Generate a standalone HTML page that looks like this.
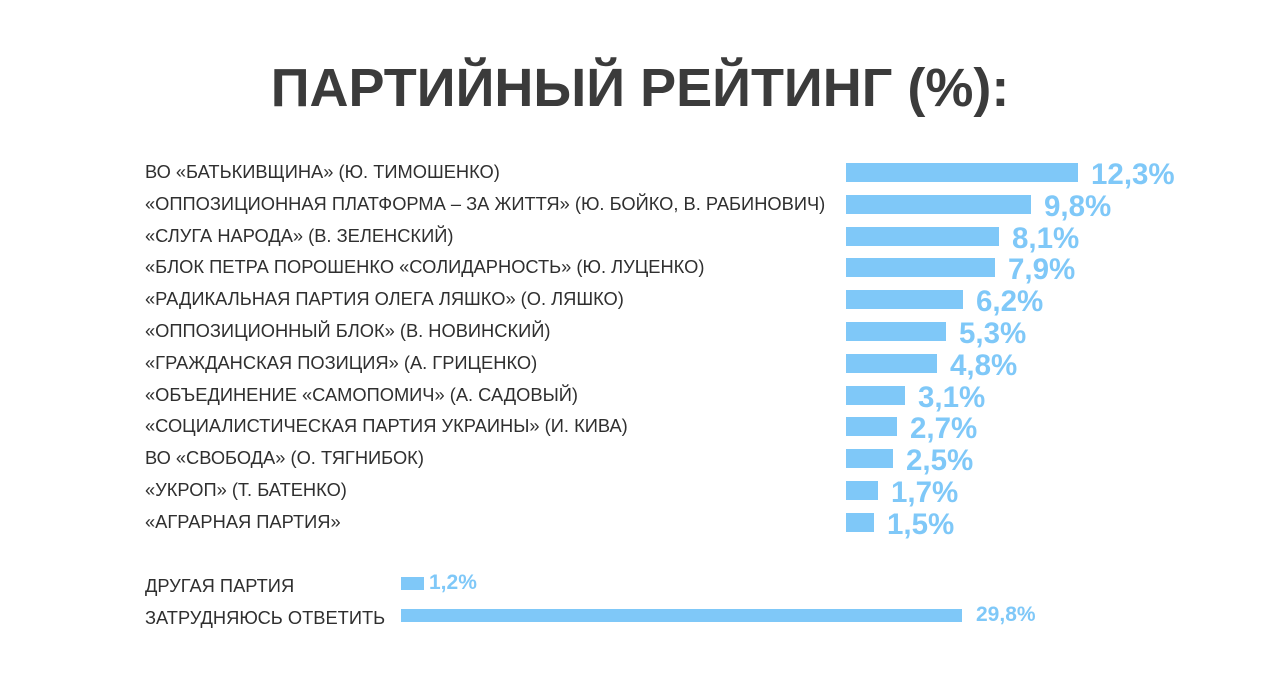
<!DOCTYPE html>
<html><head><meta charset="utf-8"><style>
body{margin:0;width:1280px;height:691px;background:#fff;position:relative;overflow:hidden;font-family:"Liberation Sans","DejaVu Sans",sans-serif}
.t{position:absolute;left:0;width:1280px;top:57px;text-align:center;font-size:54px;font-weight:bold;color:#3b3b3b;letter-spacing:0px}
.l{position:absolute;left:145px;font-size:18.3px;color:#2f2f2f;white-space:nowrap;line-height:20px}
.b{position:absolute;background:#7fc8f8}
.v{position:absolute;font-weight:bold;color:#7fc8f8;white-space:nowrap}
</style></head><body>
<div class="t">ПАРТИЙНЫЙ РЕЙТИНГ (%):</div>
<div id="c"></div>
<script>
var d=[["ВО «БАТЬКИВЩИНА» (Ю. ТИМОШЕНКО)",1078,"12,3%"],
["«ОППОЗИЦИОННАЯ ПЛАТФОРМА – ЗА ЖИТТЯ» (Ю. БОЙКО, В. РАБИНОВИЧ)",1031,"9,8%"],
["«СЛУГА НАРОДА» (В. ЗЕЛЕНСКИЙ)",999,"8,1%"],
["«БЛОК ПЕТРА ПОРОШЕНКО «СОЛИДАРНОСТЬ» (Ю. ЛУЦЕНКО)",995,"7,9%"],
["«РАДИКАЛЬНАЯ ПАРТИЯ ОЛЕГА ЛЯШКО» (О. ЛЯШКО)",963,"6,2%"],
["«ОППОЗИЦИОННЫЙ БЛОК» (В. НОВИНСКИЙ)",946,"5,3%"],
["«ГРАЖДАНСКАЯ ПОЗИЦИЯ» (А. ГРИЦЕНКО)",937,"4,8%"],
["«ОБЪЕДИНЕНИЕ «САМОПОМИЧ» (А. САДОВЫЙ)",905,"3,1%"],
["«СОЦИАЛИСТИЧЕСКАЯ ПАРТИЯ УКРАИНЫ» (И. КИВА)",897,"2,7%"],
["ВО «СВОБОДА» (О. ТЯГНИБОК)",893,"2,5%"],
["«УКРОП» (Т. БАТЕНКО)",878,"1,7%"],
["«АГРАРНАЯ ПАРТИЯ»",874,"1,5%"]];
var h="";
d.forEach(function(r,i){var y=172+i*31.8;
h+='<div class="l" style="top:'+(y-10)+'px">'+r[0]+'</div>';
h+='<div class="b" style="left:846px;top:'+(y-9)+'px;width:'+(r[1]-846)+'px;height:19px"></div>';
h+='<div class="v" style="left:'+(r[1]+13)+'px;top:'+(y-14)+'px;font-size:29.5px;line-height:34px">'+r[2]+'</div>';});
h+='<div class="l" style="top:576px">ДРУГАЯ ПАРТИЯ</div><div class="b" style="left:401px;top:577px;width:23px;height:13px"></div><div class="v" style="left:429px;top:570px;font-size:21px;line-height:26px">1,2%</div>';
h+='<div class="l" style="top:608px">ЗАТРУДНЯЮСЬ ОТВЕТИТЬ</div><div class="b" style="left:401px;top:609px;width:561px;height:13px"></div><div class="v" style="left:976px;top:602px;font-size:21px;line-height:26px">29,8%</div>';
document.getElementById("c").innerHTML=h;
</script>
</body></html>
